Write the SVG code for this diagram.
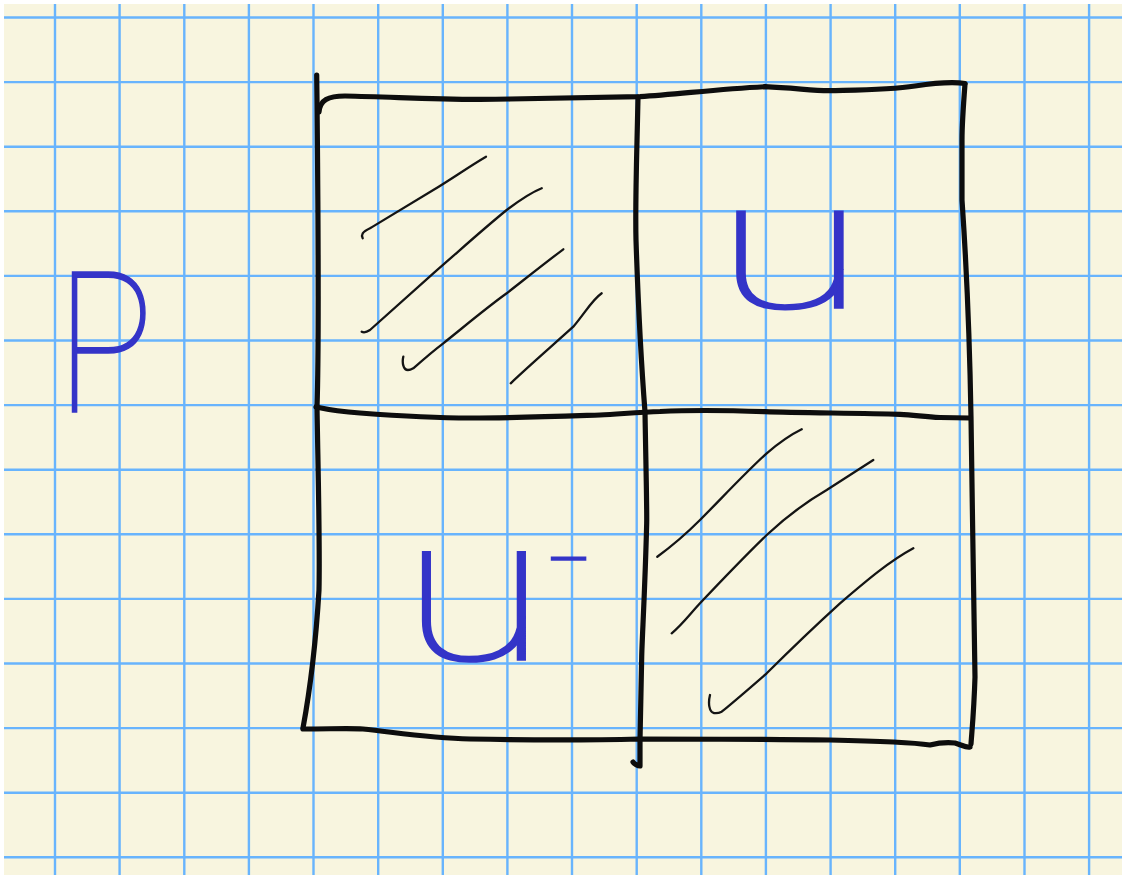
<svg xmlns="http://www.w3.org/2000/svg" width="1122" height="875" viewBox="0 0 1122 875">
<style>
.grid{stroke:#68b4fd;stroke-width:2.4;fill:none}
.frame{stroke:#0d0d0d;stroke-width:5.2;fill:none;stroke-linecap:round;stroke-linejoin:round}
.hatch{stroke:#141414;stroke-width:2.3;fill:none;stroke-linecap:round;stroke-linejoin:round}
.ink{fill:#3434c8;stroke:#3434c8;stroke-width:1.6;font-family:Roboto,"Liberation Sans",sans-serif;font-weight:100}
</style>
<rect x="0" y="0" width="1122" height="875" fill="#ffffff"/>
<rect x="4" y="4" width="1118" height="871" fill="#f8f5df"/>
<g id="grid">
<path class="grid" d="M55,4V875M119.6,4V875M184.3,4V875M248.9,4V875M313.5,4V875M378.2,4V875M442.8,4V875M507.4,4V875M572,4V875M636.7,4V875M701.3,4V875M765.9,4V875M830.6,4V875M895.2,4V875M959.8,4V875M1024.5,4V875M1089.1,4V875"/>
<path class="grid" d="M4,17.5H1122M4,82.1H1122M4,146.7H1122M4,211.3H1122M4,275.9H1122M4,340.5H1122M4,405.1H1122M4,469.7H1122M4,534.3H1122M4,598.9H1122M4,663.5H1122M4,728.1H1122M4,792.7H1122M4,857.3H1122"/>
</g>
<g id="frame">
<path class="frame" d="M316.7,75 L317,100 C318,200 319,350 317,407 C318,470 320,540 319,590 C316,640 310,690 303,728"/>
<path class="frame" d="M319,112 C320,100 328,96 345,96 C400,97 450,101 510,99 C560,98 600,97 640,96.7 C680,94 720,89 765,86.7 C795,88 815,91 830,90.7 C860,90 890,90 915,86 C935,83 955,82 965,83.5"/>
<path class="frame" d="M965,84 C963,110 962,130 962,140 L962,200 C964,230 969,300 971,417 C972,500 974,600 975,677 C974,710 972,730 971,744"/>
<path class="frame" d="M303,729 C330,729 350,728 363,729 C400,733 430,738 470,739 C520,740 600,740 640,739 C700,739 760,739 830,740 C880,741 910,742 930,745 C938,743 945,742 955,743 C962,745 966,748 970,747"/>
<path class="frame" d="M316,407 C330,410 345,412 360,413 C400,416 430,418 470,418 C520,418 570,416 600,415 C620,414 640,412 660,411.5 C690,410 720,410 765,411.7 C800,413 860,413 900,414.3 C915,415 925,417 940,417.5 L970,418"/>
<path class="frame" d="M638,97 C637,150 635,200 636,240 C638,300 641,360 645,412 C646,470 647,510 646.7,523 C645,590 642,640 641.7,657 L640,740 L640,766 C638,766 634,764 633,762"/>
</g>
<g id="hatch-top-left">
<path class="hatch" d="M362.7,238.3 C361,235 362,232 370,228.3 C390,216 410,204 433.3,190 C450,180 470,166 486,156.7"/>
<path class="hatch" d="M361.7,331.7 C364,333 367,332 370,330 C390,312 410,294 433.3,273.3 C458,252 482,230 506.7,210 C520,200 530,193 541.7,188.3"/>
<path class="hatch" d="M403.3,356.7 C402,362 403,370 408,370 C410,370 412,369 413.3,368.3 C425,358 433,351 443.3,343.3 C465,326 485,309 506.7,293.3 C525,279 545,263 563.3,249.3"/>
<path class="hatch" d="M510.7,383.3 C530,365 552,346 573.3,326.7 C585,313 592,300 601.7,293.3"/>
</g>
<g id="hatch-bottom-right">
<path class="hatch" d="M657.3,556.7 C672,546 686,534 700,520 C722,498 744,474 766.7,453.3 C780,442 790,435 801.7,429.3"/>
<path class="hatch" d="M671.7,633.3 C682,625 690,614 700,603.3 C722,580 744,557 766.7,535 C786,517 806,502 826.7,490 C842,480 858,470 873.3,460"/>
<path class="hatch" d="M710,695 C708,703 709,712 714,713 C717,713.5 719,713 721.7,711.7 C736,700 751,687 766.7,673.3 C790,650 815,626 840,603.3 C865,582 888,562 913.3,548.3"/>
</g>
<g id="label-P">
<text class="ink" x="105" y="412" font-size="196" text-anchor="middle" transform="translate(105 0) scale(0.82 1) translate(-105 0)">P</text>
</g>
<g id="label-u">
<text class="ink" x="790" y="308" font-size="183" text-anchor="middle" transform="translate(790 0) scale(1.5 1) translate(-790 0)">u</text>
</g>
<g id="label-u-minus">
<text class="ink" font-size="205" transform="translate(474 0) scale(1.3 1) translate(-474 0)"><tspan x="474" y="660" text-anchor="middle">u</tspan><tspan x="530" y="610" font-size="100">⁻</tspan></text>
</g>
</svg>
